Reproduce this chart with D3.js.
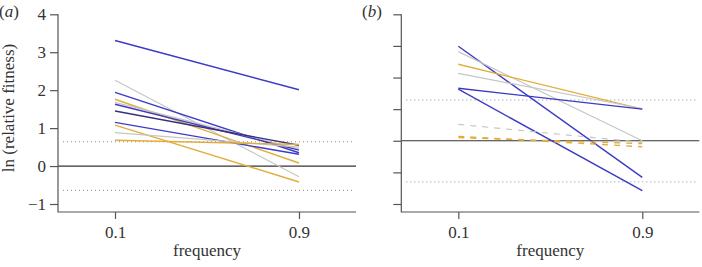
<!DOCTYPE html>
<html>
<head>
<meta charset="utf-8">
<script src="https://cdn.jsdelivr.net/npm/d3@7"></script>
<style>
html,body{margin:0;padding:0;background:#fff;}
</style>
</head>
<body>
<svg id="chart" width="702" height="267"></svg>
<script>
// ---- data ----
const frequencies = [0.1, 0.9];
const yTicksA = [-1, 0, 1, 2, 3, 4];
const yTicksB = [-2, -1, 0, 1, 2, 3, 4];
const thresholdA = [0.64, -0.64];
const thresholdB = [1.29, -1.3];

// panel (a)
const lowA  = [3.31, 2.26, 1.94, 1.76, 1.68, 1.63, 1.45, 1.15, 1.08, 0.88, 0.68];
const highA = [2.01, -0.28, 0.35, 0.08, 0.45, 0.42, 0.55, 0.31, -0.42, 0.50, 0.57];
const groupA = ["blue","grey","blue","gold","grey","blue","navy","blue","gold","grey","gold"];
const dashA  = [false,false,false,false,false,false,false,false,false,false,false];

// panel (b)
const lowB  = [2.99, 2.82, 2.42, 2.13, 1.66, 1.63, 0.52, 0.14, 0.10];
const highB = [-1.16, 0.0, 1.0, 1.02, 1.0, -1.58, -0.05, -0.19, -0.09];
const groupB = ["blue","grey","gold","grey","blue","blue","grey","gold","gold"];
const dashB  = [false,false,false,false,false,false,true,true,true];

const colors = {blue:"#3b3bc4", navy:"#3a2f78", gold:"#e3ad3c", grey:"#c6c6c6"};
const FONT = "'Liberation Serif', 'Times New Roman', 'DejaVu Serif', serif";
const FS = "17px";

const svg = d3.select("#chart");

function panel(opt){
  const x = d3.scaleLinear().domain([-0.148, 1.148]).range([opt.left, opt.left + 298]);
  const y = d3.scaleLinear().domain(opt.ydom).range([204, 14.3]);
  const g = svg.append("g");
  const bottom = 212;

  g.selectAll("line.thr").data(opt.thr).enter().append("line")
    .attr("x1", opt.left + 5).attr("x2", x.range()[1] - 1)
    .attr("y1", d => y(d)).attr("y2", d => y(d))
    .attr("stroke", "#8a8a8a").attr("stroke-width", 1)
    .attr("stroke-dasharray", "1,3");

  g.append("line")
    .attr("x1", opt.left).attr("x2", x.range()[1])
    .attr("y1", y(0)).attr("y2", y(0))
    .attr("stroke", "#333").attr("stroke-width", 1.2);

  const idx = d3.range(opt.low.length);
  g.selectAll("line.d").data(idx).enter().append("line")
    .attr("x1", x(frequencies[0])).attr("x2", x(frequencies[1]))
    .attr("y1", i => y(opt.low[i])).attr("y2", i => y(opt.high[i]))
    .attr("stroke", i => colors[opt.group[i]])
    .attr("stroke-width", i => opt.group[i] === "grey" ? 1.2 : 1.4)
    .attr("stroke-dasharray", i => opt.dash[i] ? "6,6" : null);

  const ya = d3.axisLeft(y).tickValues(opt.yticks).tickSize(8).tickPadding(4)
    .tickFormat(opt.labels ? (d => d < 0 ? "\u2212" + Math.abs(d) : d) : (() => ""))
    .tickSizeOuter(0);
  const yg = g.append("g").attr("transform", `translate(${opt.left},0)`).call(ya);
  yg.attr("font-family", FONT).attr("font-size", FS);
  yg.select(".domain").remove();
  yg.selectAll("line").attr("stroke", "#555").attr("stroke-width", 1.2);
  yg.selectAll("text").attr("fill", "#333");

  const xa = d3.axisBottom(x).tickValues(frequencies).tickSize(7).tickPadding(7)
    .tickFormat(d3.format(".1f")).tickSizeOuter(0);
  const xg = g.append("g").attr("transform", `translate(0,${bottom})`).call(xa);
  xg.attr("font-family", FONT).attr("font-size", FS);
  xg.select(".domain").remove();
  xg.selectAll("line").attr("stroke", "#555").attr("stroke-width", 1.2);
  xg.selectAll("text").attr("fill", "#333");

  g.append("path")
    .attr("d", `M${opt.left},${y(opt.ydom[1])}V${bottom}H${x.range()[1]}`)
    .attr("fill", "none").attr("stroke", "#555").attr("stroke-width", 1.2);

  g.append("text")
    .attr("x", (x(frequencies[0]) + x(frequencies[1])) / 2).attr("y", 256)
    .attr("text-anchor", "middle").attr("font-family", FONT).attr("font-size", FS)
    .attr("fill", "#333").text("frequency");

  g.append("text")
    .attr("x", opt.tagX).attr("y", 17).attr("font-family", FONT).attr("font-size", FS)
    .attr("fill", "#333").html(opt.tag);
}

panel({left:58, ydom:[-1,4], yticks:yTicksA, thr:thresholdA, low:lowA, high:highA,
       group:groupA, dash:dashA, labels:true, tagX:-1, tag:"(<tspan font-style='italic'>a</tspan>)"});
panel({left:401.3, ydom:[-2,4], yticks:yTicksB, thr:thresholdB, low:lowB, high:highB,
       group:groupB, dash:dashB, labels:false, tagX:362, tag:"(<tspan font-style='italic'>b</tspan>)"});

svg.append("text")
  .attr("transform", "translate(14,108) rotate(-90)")
  .attr("text-anchor", "middle").attr("font-family", FONT).attr("font-size", FS)
  .attr("fill", "#333").text("ln (relative fitness)");
</script>
</body>
</html>
